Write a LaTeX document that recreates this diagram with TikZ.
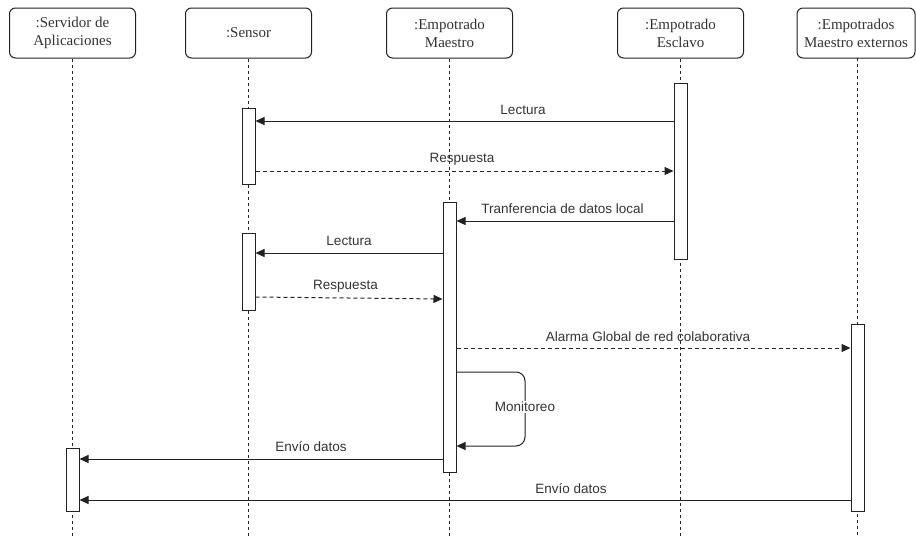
\documentclass[tikz,border=0pt]{standalone}
\usepackage{fontspec}
\setmainfont{Liberation Serif}
\setsansfont{Liberation Sans}
\usetikzlibrary{arrows.meta}
\definecolor{ink}{HTML}{222222}
\definecolor{txt}{HTML}{333333}
\begin{document}
\begin{tikzpicture}[x=1pt,y=-1pt,
  actor/.style={draw=ink, line width=1pt, rounded corners=6pt, minimum height=50pt,
    align=center, font=\fontsize{15}{18}\selectfont, text=txt, inner sep=0pt},
  lifeline/.style={draw=ink, line width=0.9pt, dash pattern=on 3pt off 3pt},
  bar/.style={draw=ink, fill=white, line width=1pt, minimum width=13pt, inner sep=0pt, anchor=north},
  call/.style={draw=ink, line width=1pt, -{Triangle[length=9pt,width=8pt]}},
  reply/.style={call, dash pattern=on 4pt off 3pt},
  lbl/.style={font=\sffamily\fontsize{13.5}{16}\selectfont, text=txt, inner sep=1pt}
]
\useasboundingbox (0,0) rectangle (916,539);

% participants
\node[actor, minimum width=126pt] (srv) at (72.5,33) {:Servidor de\\Aplicaciones};
\node[actor, minimum width=126pt] (sen) at (248.5,33) {:Sensor};
\node[actor, minimum width=126pt] (mae) at (449.5,33) {:Empotrado\\Maestro};
\node[actor, minimum width=126pt] (esc) at (680.5,33) {:Empotrado\\Esclavo};
\node[actor, minimum width=118pt] (ext) at (856,33) {:Empotrados\\Maestro externos};

% lifelines
\draw[lifeline] (srv.south) -- (srv.south |- 0,537);
\draw[lifeline] (sen.south) -- (sen.south |- 0,537);
\draw[lifeline] (mae.south) -- (mae.south |- 0,537);
\draw[lifeline] (esc.south) -- (esc.south |- 0,537);
\draw[lifeline] (857.5,58) -- (857.5,537);

% activation bars
\node[bar, minimum height=76pt]  (bS1) at (248.5,108) {};
\node[bar, minimum height=176pt] (bE)  at (680.5,83) {};
\node[bar, minimum height=270pt] (bM)  at (449.5,202) {};
\node[bar, minimum height=77pt]  (bS2) at (248.5,233) {};
\node[bar, minimum height=187pt] (bX)  at (857.5,324) {};
\node[bar, minimum height=63pt]  (bV)  at (72.5,448) {};

% messages
\draw[call]  (bE.west |- 0,121) -- (bS1.east |- 0,121);
\node[lbl] (l1) at (523,110) {Lectura};

\draw[reply] (bS1.east |- 0,171) -- (bE.west |- 0,171);
\node[lbl] (l2) at (462,159) {Respuesta};

\draw[call]  (bE.west |- 0,221) -- (bM.east |- 0,221);
\node[lbl] (l3) at (562.5,209) {Tranferencia de datos local};

\draw[call]  (bM.west |- 0,253) -- (bS2.east |- 0,253);
\node[lbl] (l4) at (349,241) {Lectura};

\draw[reply] (bS2.east |- 0,297) -- (bM.west |- 0,299);
\node[lbl] (l5) at (345.5,286) {Respuesta};

\draw[reply] (bM.east |- 0,348) -- (bX.west |- 0,348);
\node[lbl] (l6) at (648,337) {Alarma Global de red colaborativa};

\draw[call, rounded corners=9pt] (bM.east |- 0,372) -- (525,372) -- (525,446) -- (bM.east |- 0,446);
\node[lbl, fill=white] (l7) at (525,407) {Monitoreo};

\draw[call]  (bM.west |- 0,459) -- (bV.east |- 0,459);
\node[lbl] (l8) at (311,447) {Envío datos};

\draw[call]  (bX.west |- 0,500) -- (bV.east |- 0,500);
\node[lbl] (l9) at (571,489) {Envío datos};
\end{tikzpicture}
\end{document}
